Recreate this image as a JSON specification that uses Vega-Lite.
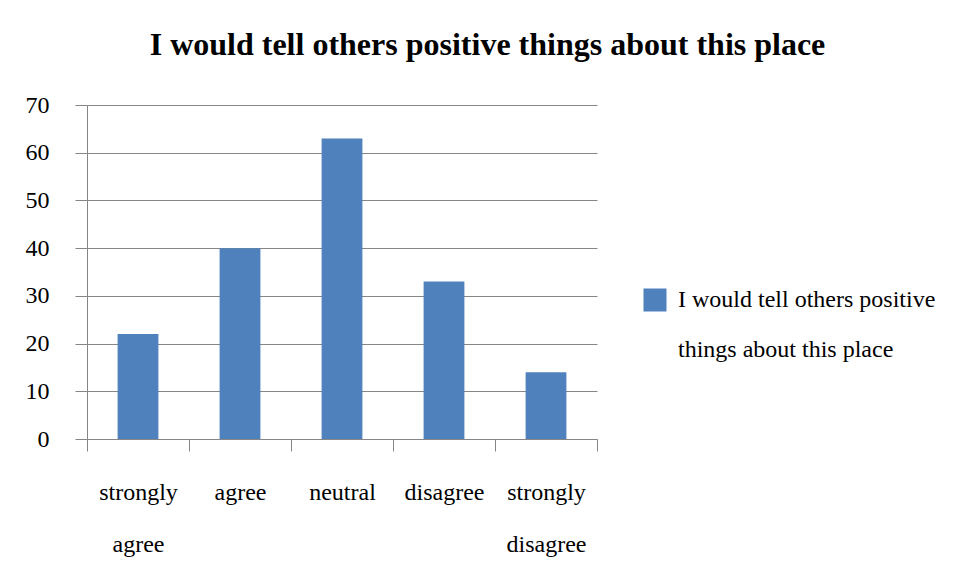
{
  "$schema": "https://vega.github.io/schema/vega-lite/v6.json",
  "width": 510,
  "height": 334,
  "padding": {"left": 25, "top": 29, "right": 10, "bottom": 5},
  "background": "white",
  "title": {
    "text": "I would tell others positive things about this place",
    "font": "Liberation Serif",
    "fontSize": 32,
    "fontWeight": "bold",
    "color": "#000000",
    "anchor": "middle",
    "frame": "bounds",
    "offset": 31,
    "dx": 7
  },
  "data": {
    "values": [
      {"response": "strongly agree", "count": 22, "series": "I would tell others positive things about this place"},
      {"response": "agree", "count": 40, "series": "I would tell others positive things about this place"},
      {"response": "neutral", "count": 63, "series": "I would tell others positive things about this place"},
      {"response": "disagree", "count": 33, "series": "I would tell others positive things about this place"},
      {"response": "strongly disagree", "count": 14, "series": "I would tell others positive things about this place"}
    ]
  },
  "mark": {"type": "bar", "width": {"band": 0.4}},
  "encoding": {
    "x": {
      "field": "response",
      "type": "nominal",
      "sort": null,
      "scale": {"paddingInner": 0, "paddingOuter": 0},
      "axis": {
        "title": null,
        "labelAngle": 0,
        "tickBand": "extent",
        "tickSize": 12,
        "tickColor": "#868686",
        "domainColor": "#868686",
        "labelExpr": "split(datum.label, ' ')",
        "labelLineHeight": 52,
        "labelBaseline": "top",
        "labelPadding": 29,
        "labelFont": "Liberation Serif",
        "labelFontSize": 24,
        "labelColor": "#000000"
      }
    },
    "y": {
      "field": "count",
      "type": "quantitative",
      "scale": {"domain": [0, 70], "nice": false},
      "axis": {
        "title": null,
        "values": [0, 10, 20, 30, 40, 50, 60, 70],
        "grid": true,
        "gridColor": "#868686",
        "gridWidth": 1,
        "tickSize": 12,
        "tickColor": "#868686",
        "domainColor": "#868686",
        "labelPadding": 26,
        "labelFont": "Liberation Serif",
        "labelFontSize": 24,
        "labelColor": "#000000"
      }
    },
    "color": {
      "field": "series",
      "type": "nominal",
      "scale": {"range": ["#4F81BD"]},
      "legend": {
        "title": null,
        "orient": "none",
        "legendX": 556,
        "legendY": 183,
        "padding": 0,
        "symbolType": "square",
        "symbolSize": 529,
        "symbolStrokeWidth": 0,
        "symbolOpacity": 1,
        "labelFont": "Liberation Serif",
        "labelFontSize": 24,
        "labelColor": "#000000",
        "labelLimit": 500,
        "labelOffset": 11,
        "labelExpr": "['I would tell others positive', 'things about this place']",
        "labelBaseline": "middle",
        "encode": {
          "labels": {"update": {"lineHeight": {"value": 50}}}
        }
      }
    }
  },
  "config": {
    "view": {"stroke": null},
    "axis": {"domainWidth": 1, "tickWidth": 1}
  }
}
